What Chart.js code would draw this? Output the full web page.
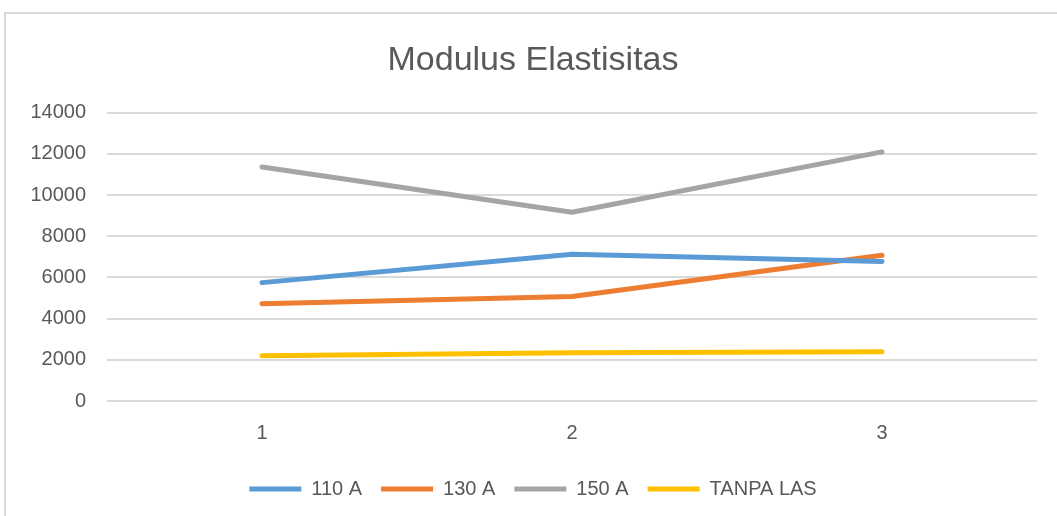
<!DOCTYPE html>
<html>
<head>
<meta charset="utf-8">
<script src="https://cdn.jsdelivr.net/npm/chart.js@4/dist/chart.umd.min.js"></script>
<style>
  html, body { margin: 0; padding: 0; background: #fff; overflow: hidden; }
  #frame {
    position: absolute; left: 4px; top: 12px; width: 1100px; height: 600px;
    border-top: 2px solid #d9d9d9; border-left: 2px solid #d9d9d9;
  }
  #CHART { position: absolute; left: 0; top: 0; }
</style>
</head>
<body>
<div id="frame"></div>
<canvas id="CHART" width="1057" height="516"></canvas>
<script>
// Datos
const CATEGORIES = ['1', '2', '3'];
const SERIES_NAMES = ['110 A', '130 A', '150 A', 'TANPA LAS'];
const VAL_110A = [5750, 7130, 6780];
const VAL_130A = [4730, 5080, 7080];
const VAL_150A = [11370, 9170, 12100];
const VAL_TANPA = [2200, 2340, 2390];
const Y_TICKS = [0, 2000, 4000, 6000, 8000, 10000, 12000, 14000];
const COLORS = ['#5B9BD5', '#ED7D31', '#A5A5A5', '#FFC000'];

const FONT = "'Liberation Sans', Arial, sans-serif";
const TEXT_COLOR = '#595959';

const allValues = [VAL_110A, VAL_130A, VAL_150A, VAL_TANPA];

const datasets = SERIES_NAMES.map((name, i) => ({
  label: name,
  data: allValues[i],
  borderColor: COLORS[i],
  backgroundColor: COLORS[i],
  borderWidth: 5,
  borderCapStyle: 'round',
  borderJoinStyle: 'round',
  pointRadius: 0,
  pointHoverRadius: 0,
  tension: 0,
  fill: false
}));

const ctx = document.getElementById('CHART');

new Chart(ctx, {
  type: 'line',
  data: { labels: CATEGORIES, datasets: datasets },
  options: {
    responsive: false,
    animation: false,
    // izquierda lo justo para no cortar "14000"
    layout: { padding: { left: 29, right: 20, top: 0, bottom: 7 } },
    plugins: {
      title: {
        display: true,
        text: 'Modulus Elastisitas',
        color: TEXT_COLOR,
        font: { family: FONT, size: 34, weight: 'normal' },
        padding: { top: 40, bottom: 32 }
      },
      legend: {
        position: 'bottom',
        labels: {
          color: TEXT_COLOR,
          font: { family: FONT, size: 20 },
          usePointStyle: true,
          pointStyle: 'line',
          pointStyleWidth: 52,
          padding: 19
        }
      },
      tooltip: { enabled: false }
    },
    scales: {
      x: {
        offset: true,
        grid: { display: false },
        border: { display: false },
        ticks: { color: TEXT_COLOR, font: { family: FONT, size: 20 }, padding: 12 },
        afterFit: (scale) => { scale.height = 59; }
      },
      y: {
        min: Y_TICKS[0],
        max: Y_TICKS[Y_TICKS.length - 1],
        afterBuildTicks: (scale) => { scale.ticks = Y_TICKS.map(v => ({ value: v })); },
        grid: { color: '#d9d9d9', lineWidth: 2, drawTicks: false },
        border: { display: false },
        ticks: {
          color: TEXT_COLOR,
          font: { family: FONT, size: 20 },
          padding: 21,
          callback: (v) => String(v)
        },
        afterFit: (scale) => { scale.width = 78; }
      }
    }
  }
});
</script>
</body>
</html>
